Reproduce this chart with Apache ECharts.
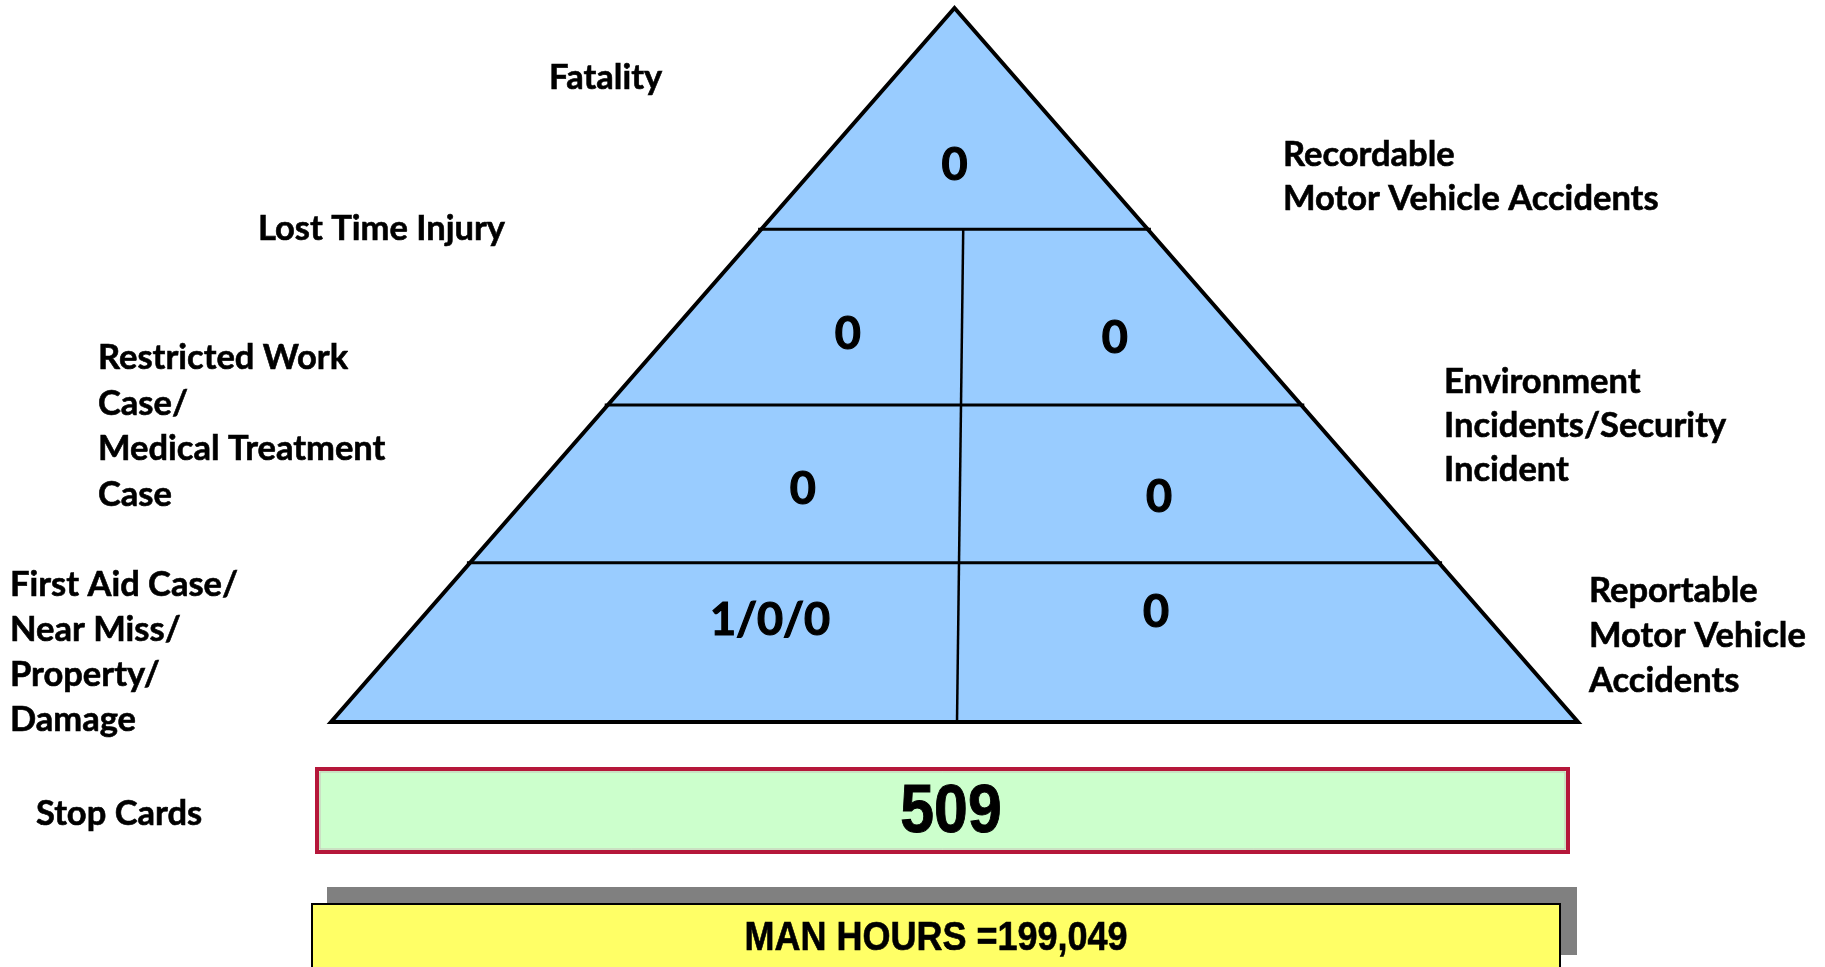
<!DOCTYPE html>
<html>
<head>
<meta charset="utf-8">
<title>Safety pyramid</title>
<script src="https://cdn.jsdelivr.net/npm/echarts@6/dist/echarts.min.js"></script>
<style>
  html, body { margin: 0; padding: 0; background: #fff; }
  #chart { width: 1825px; height: 967px; }
</style>
</head>
<body>
<div id="chart"></div>
<script>
// left-hand categories, one per tier from the top
const tierNames = [
  'Fatality',
  'Lost Time Injury',
  'Restricted Work\nCase/\nMedical Treatment\nCase',
  'First Aid Case/\nNear Miss/\nProperty/\nDamage',
];
const tierValues = ['0', '0', '0', '1/0/0'];

// right-hand categories, tiers 2..4
const sideNames = [
  'Recordable\nMotor Vehicle Accidents',
  'Environment\nIncidents/Security\nIncident',
  'Reportable\nMotor Vehicle\nAccidents',
];
const sideValues = ['0', '0', '0'];

const stopCardsLabel = 'Stop Cards';
const stopCards = 509;
const manHours = 199049;

// pyramid geometry in axis units: apex (0,1), base from -1 to 1
const tierBreaks = [1, 0.69, 0.444, 0.223, 0];
const dividerTop = 0.014;
const dividerBottom = 0.004;
// where each value sits inside its cell: [fraction of half width, fraction of tier height]
const leftAnchor = [[0, 0.29], [-0.395, 0.40], [-0.365, 0.466], [-0.333, 0.64]];
const rightAnchor = [null, [0.594, 0.38], [0.492, 0.416], [0.364, 0.69]];

const labelFont = 'bold 34.5px Lato, "Open Sans", sans-serif';
const numberFont = 'bold 45px Lato, "Open Sans", sans-serif';
const boxFont = '"Liberation Sans", Arial, sans-serif';

const halfWidth = (y) => 1 - y;

function valuePoints() {
  const pts = [];
  for (let i = 0; i < tierValues.length; i++) {
    const lo = tierBreaks[i + 1];
    const hi = tierBreaks[i];
    const mid = (lo + hi) / 2;
    const hw = halfWidth(mid);
    const a = leftAnchor[i];
    pts.push({ text: tierValues[i], value: [a[0] * hw, lo + a[1] * (hi - lo)] });
    if (i > 0) {
      const b = rightAnchor[i];
      pts.push({ text: sideValues[i - 1], value: [b[0] * hw, lo + b[1] * (hi - lo)] });
    }
  }
  return pts;
}

const points = valuePoints();

function renderFrame(params, api) {
  const p = (x, y) => api.coord([x, y]);
  const children = [{
    type: 'polygon',
    shape: { points: [p(0, 1), p(1, 0), p(-1, 0)] },
    style: { fill: '#99ccff', stroke: '#000', lineWidth: 4, lineJoin: 'miter' },
  }];
  tierBreaks.slice(1, -1).forEach((y) => {
    const a = p(-halfWidth(y) - 0.005, y);
    const b = p(halfWidth(y) + 0.005, y);
    children.push({
      type: 'line',
      shape: { x1: a[0], y1: a[1], x2: b[0], y2: b[1] },
      style: { stroke: '#000', lineWidth: 3 },
    });
  });
  const t = p(dividerTop, tierBreaks[1]);
  const b = p(dividerBottom, 0);
  children.push({
    type: 'line',
    shape: { x1: t[0], y1: t[1], x2: b[0], y2: b[1] },
    style: { stroke: '#000', lineWidth: 2.5 },
  });
  return { type: 'group', children };
}

function renderValue(params, api) {
  const pos = api.coord([api.value(0), api.value(1)]);
  return {
    type: 'text',
    x: pos[0],
    y: pos[1],
    style: {
      text: points[params.dataIndex].text,
      font: numberFont,
      fill: '#000',
      stroke: '#000',
      lineWidth: 1.2,
      textAlign: 'center',
      textVerticalAlign: 'middle',
    },
  };
}

function textBlock(text, x, firstLineY, lineHeight) {
  return {
    type: 'text',
    x,
    y: firstLineY - lineHeight / 2,
    style: {
      text,
      font: labelFont,
      fill: '#000',
      stroke: '#000',
      lineWidth: 0.6,
      lineHeight,
      textVerticalAlign: 'top',
    },
  };
}

const chart = echarts.init(document.getElementById('chart'));

chart.setOption({
  animation: false,
  grid: { left: 331, top: 8, width: 1247, height: 714 },
  xAxis: { type: 'value', min: -1, max: 1, show: false },
  yAxis: { type: 'value', min: 0, max: 1, show: false },
  series: [
    {
      type: 'custom',
      name: 'frame',
      data: [[0, 0]],
      renderItem: renderFrame,
      silent: true,
      z: 1,
    },
    {
      type: 'custom',
      name: 'values',
      data: points.map((d) => d.value),
      renderItem: renderValue,
      silent: true,
      z: 3,
    },
  ],
  graphic: [
    textBlock(tierNames[0], 549, 78, 45),
    textBlock(tierNames[1], 258, 229, 45),
    textBlock(tierNames[2], 98, 358, 45.5),
    textBlock(tierNames[3], 10, 585, 45),
    textBlock(sideNames[0], 1283, 155, 44),
    textBlock(sideNames[1], 1444, 382, 44),
    textBlock(sideNames[2], 1589, 591, 45),
    textBlock(stopCardsLabel, 36, 814, 45),
    {
      type: 'rect',
      shape: { x: 317, y: 769, width: 1251, height: 83 },
      style: { fill: '#ccffcc', stroke: '#b5173a', lineWidth: 4 },
    },
    {
      type: 'rect',
      shape: { x: 320, y: 772, width: 1245, height: 77 },
      style: { fill: 'none', stroke: '#c9c2b9', lineWidth: 1 },
    },
    {
      type: 'text',
      x: 951,
      y: 813,
      scaleX: 0.88,
      style: {
        text: String(stopCards),
        font: 'bold 69px ' + boxFont,
        fill: '#000',
        stroke: '#000',
        lineWidth: 1,
        textAlign: 'center',
        textVerticalAlign: 'middle',
      },
    },
    {
      type: 'rect',
      shape: { x: 327, y: 887, width: 1250, height: 68 },
      style: { fill: '#808080' },
    },
    {
      type: 'rect',
      shape: { x: 312, y: 904, width: 1248, height: 90 },
      style: { fill: '#ffff66', stroke: '#000', lineWidth: 2 },
    },
    {
      type: 'text',
      x: 936,
      y: 939,
      scaleX: 0.9,
      style: {
        text: 'MAN HOURS =' + manHours.toLocaleString('en-US'),
        font: 'bold 40px ' + boxFont,
        fill: '#000',
        stroke: '#000',
        lineWidth: 0.6,
        textAlign: 'center',
        textVerticalAlign: 'middle',
      },
    },
  ],
});
</script>
</body>
</html>
